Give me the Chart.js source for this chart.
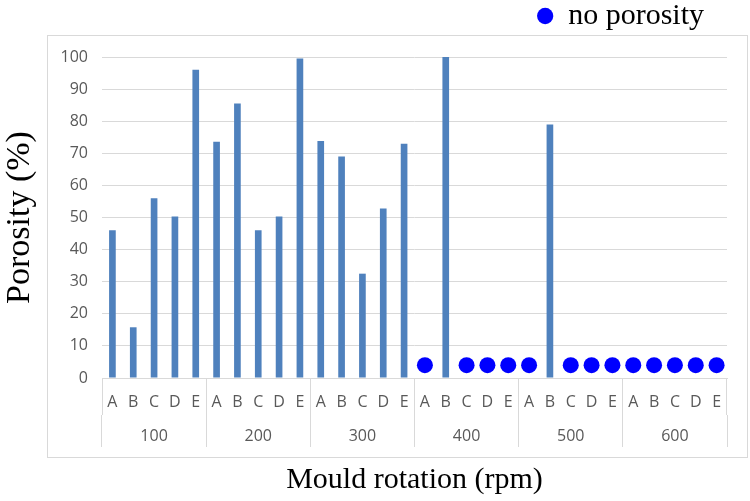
<!DOCTYPE html>
<html>
<head>
<meta charset="utf-8">
<title>Porosity vs mould rotation</title>
<script src="https://cdn.jsdelivr.net/npm/chart.js@4/dist/chart.umd.min.js"></script>
<style>
  html, body { margin: 0; padding: 0; background: #fff; }
</style>
</head>
<body>
<canvas id="porosityChart" width="750" height="501"></canvas>
<script>
// mould rotation groups (rpm) and samples inside each group
const rotations = ['100', '200', '300', '400', '500', '600'];
const samples = ['A', 'B', 'C', 'D', 'E'];

// porosity (%) per sample, 0 = no porosity found
const porosity100 = [46, 15.8, 56, 50.3, 96];
const porosity200 = [73.6, 85.5, 46, 50.3, 99.5];
const porosity300 = [73.8, 69, 32.5, 52.8, 73];
const porosity400 = [0, 100, 0, 0, 0];
const porosity500 = [0, 79, 0, 0, 0];
const porosity600 = [0, 0, 0, 0, 0];

// height at which the "no porosity" dots sit
const markerLevel = 4;

const yTicks = [0, 10, 20, 30, 40, 50, 60, 70, 80, 90, 100];

const grey = '#d9d9d9';
const tickGrey = '#595959';
const tickFont = { family: 'Open Sans', size: 16 };

const allPorosity = [].concat(porosity100, porosity200, porosity300, porosity400, porosity500, porosity600);
const sampleLabels = [];
rotations.forEach(() => samples.forEach(s => sampleLabels.push(s)));
const dots = allPorosity.map(v => v === 0 ? markerLevel : null);

// gray frame round the plot and legend placement as in the figure
const framePlugin = {
    id: 'frame',
    afterLayout(chart) {
        const lg = chart.legend;
        lg.left -= 22;
        lg.right -= 22;
        lg.top -= 16;
        lg.bottom -= 16;
    },
    beforeDraw(chart) {
        const { ctx, chartArea, scales } = chart;
        const left = scales.y.left + 47.5;
        const top = chartArea.top - 21.5;
        const right = chartArea.right + 20.5;
        const bottom = scales.x2.top + 42.5;
        ctx.save();
        ctx.strokeStyle = grey;
        ctx.lineWidth = 1;
        ctx.strokeRect(left, top, right - left, bottom - top);
        ctx.restore();
    }
};

const ctx = document.getElementById('porosityChart').getContext('2d');
new Chart(ctx, {
    type: 'bar',
    data: {
        labels: sampleLabels,
        datasets: [
            {
                type: 'line',
                label: 'no porosity',
                data: dots,
                showLine: false,
                pointRadius: 8,
                pointHoverRadius: 8,
                pointBackgroundColor: '#0000ff',
                pointBorderWidth: 0,
                backgroundColor: '#0000ff',
                borderColor: '#0000ff',
                xAxisID: 'x',
                yAxisID: 'y'
            },
            {
                label: 'porosity',
                data: allPorosity,
                backgroundColor: '#4f81bd',
                barPercentage: 0.32,
                categoryPercentage: 1,
                xAxisID: 'x',
                yAxisID: 'y'
            }
        ]
    },
    options: {
        responsive: false,
        animation: false,
        layout: { padding: { top: 16, right: 23, bottom: 0, left: 0 } },
        plugins: {
            legend: {
                position: 'top',
                align: 'end',
                labels: {
                    filter: item => item.text === 'no porosity',
                    usePointStyle: true,
                    boxWidth: 16,
                    boxHeight: 11.5,
                    padding: 1,
                    color: '#000',
                    font: { family: 'Liberation Serif', size: 30, lineHeight: 1 }
                }
            },
            tooltip: { enabled: false }
        },
        scales: {
            y: {
                min: 0,
                max: 100,
                afterBuildTicks: s => { s.ticks = yTicks.map(v => ({ value: v })); },
                afterFit: s => { s.width = 102; },
                grid: { color: grey, drawTicks: false },
                border: { display: false },
                ticks: { color: tickGrey, font: tickFont, padding: 14 },
                title: {
                    display: true,
                    text: 'Porosity (%)',
                    color: '#000',
                    font: { family: 'Liberation Serif', size: 34 },
                    padding: { top: 0, bottom: 0 }
                }
            },
            x: {
                type: 'category',
                position: 'bottom',
                offset: true,
                afterFit: s => { s.height = 37; },
                grid: {
                    offset: true,
                    drawOnChartArea: false,
                    tickLength: 37,
                    color: c => (c.index === undefined || c.index % 5 === 0) ? grey : 'rgba(0,0,0,0)'
                },
                border: { display: true, color: grey },
                ticks: { color: tickGrey, font: tickFont, padding: -22, autoSkip: false, maxRotation: 0 }
            },
            x2: {
                type: 'category',
                position: 'bottom',
                labels: rotations,
                offset: true,
                afterFit: s => { s.height = 86; },
                grid: {
                    offset: true,
                    drawOnChartArea: false,
                    tickLength: 32,
                    color: grey
                },
                border: { display: false },
                ticks: { color: tickGrey, font: tickFont, padding: -20, autoSkip: false, maxRotation: 0 },
                title: {
                    display: true,
                    text: 'Mould rotation (rpm)',
                    color: '#000',
                    font: { family: 'Liberation Serif', size: 30 },
                    padding: { top: 0, bottom: 3 }
                }
            }
        }
    },
    plugins: [framePlugin]
});
</script>
</body>
</html>
